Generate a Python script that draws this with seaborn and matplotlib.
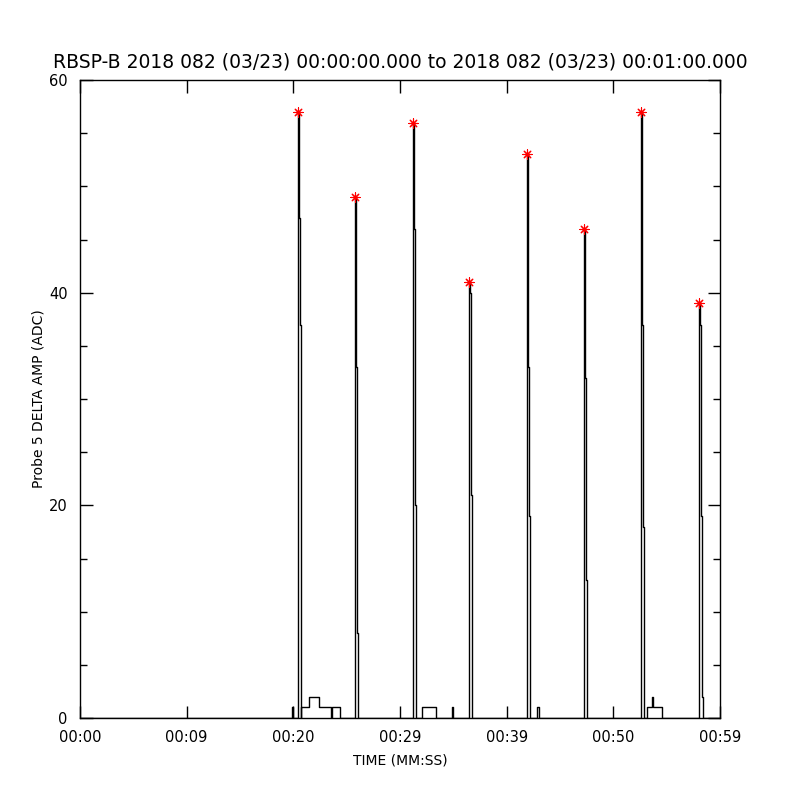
#!/usr/bin/env python3
# RBSP-B probe 5 delta amp, 1 minute of data
import numpy as np
import pandas as pd
import matplotlib
matplotlib.use("Agg")
import matplotlib.pyplot as plt
import seaborn as sns

title = "RBSP-B 2018 082 (03/23) 00:00:00.000 to 2018 082 (03/23) 00:01:00.000"

# spike peak times (s) and the samples of each spike (peak first)
spike_times = [20.47, 25.81, 31.25, 36.50, 41.93, 47.28, 52.62, 58.06]
spike_peaks = [57, 49, 56, 41, 53, 46, 57, 39]
spike_tails = [[47, 37], [33, 8], [46, 20], [40, 21], [33, 19], [32, 13], [37, 18], [37, 19, 2]]
dt = 0.09  # sample width

# small steps near the baseline: start time and level
bump_times = [19.90, 19.97, 20.72, 21.47, 22.41, 23.53, 23.63, 24.34,
              32.03, 33.35, 34.90, 35.00, 42.87, 43.06,
              53.18, 53.65, 53.75, 54.59]
bump_levels = [1, 0, 1, 2, 1, 0, 1, 0,
               1, 0, 1, 0, 1, 0,
               1, 2, 1, 0]

# build one step series
ev = [(0.0, 0), (60.0, 0)]
for t, v in zip(bump_times, bump_levels):
    ev.append((t, v))
for t, p, tail in zip(spike_times, spike_peaks, spike_tails):
    t0 = t - dt / 2
    ev.append((t0, p))
    for i, v in enumerate(tail):
        ev.append((t0 + dt * (i + 1), v))
    ev.append((t0 + dt * (len(tail) + 1), 0))
ev.sort(key=lambda e: e[0])
df = pd.DataFrame(ev, columns=["time", "amp"])
peaks = pd.DataFrame({"time": spike_times, "amp": spike_peaks})

sns.set_style("ticks")
plt.rcParams['font.family'] = ['DejaVu Sans']
plt.rcParams.update({"text.color": "black", "axes.labelcolor": "black",
                     "xtick.color": "black", "ytick.color": "black"})

fig = plt.figure(figsize=(8, 8), dpi=100)
ax = fig.add_axes([0.1, 0.1025, 0.8, 0.7975])

sns.lineplot(data=df, x="time", y="amp", ax=ax, estimator=None, sort=False,
             drawstyle="steps-post", color="black", linewidth=1.0)
sns.scatterplot(data=peaks, x="time", y="amp", ax=ax, marker=(8, 2, 0),
                color="red", s=45, linewidth=0.8, zorder=5)

ax.set_xlim(0, 60)
ax.set_ylim(0, 60)
ax.set_xticks([0, 10, 20, 30, 40, 50, 60])
ax.set_xticklabels(["00:00", "00:09", "00:20", "00:29", "00:39", "00:50", "00:59"])
ax.set_yticks([0, 20, 40, 60])
ax.set_yticks(np.arange(0, 61, 5), minor=True)
ax.tick_params(axis="both", which="both", direction="in", top=True, right=True,
               colors="black", labelsize=10.5, width=1)
ax.tick_params(axis="both", which="major", length=9, pad=9)
ax.tick_params(axis="y", which="minor", length=5)
for s in ax.spines.values():
    s.set_color("black")
    s.set_linewidth(1)

ax.set_title(title, fontsize=13.5, pad=9, color="black")
ax.set_xlabel("TIME (MM:SS)", fontsize=10, labelpad=6)
ax.set_ylabel("Probe 5 DELTA AMP (ADC)", fontsize=10, labelpad=2)

fig.savefig("out.png", dpi=100, facecolor="white")
